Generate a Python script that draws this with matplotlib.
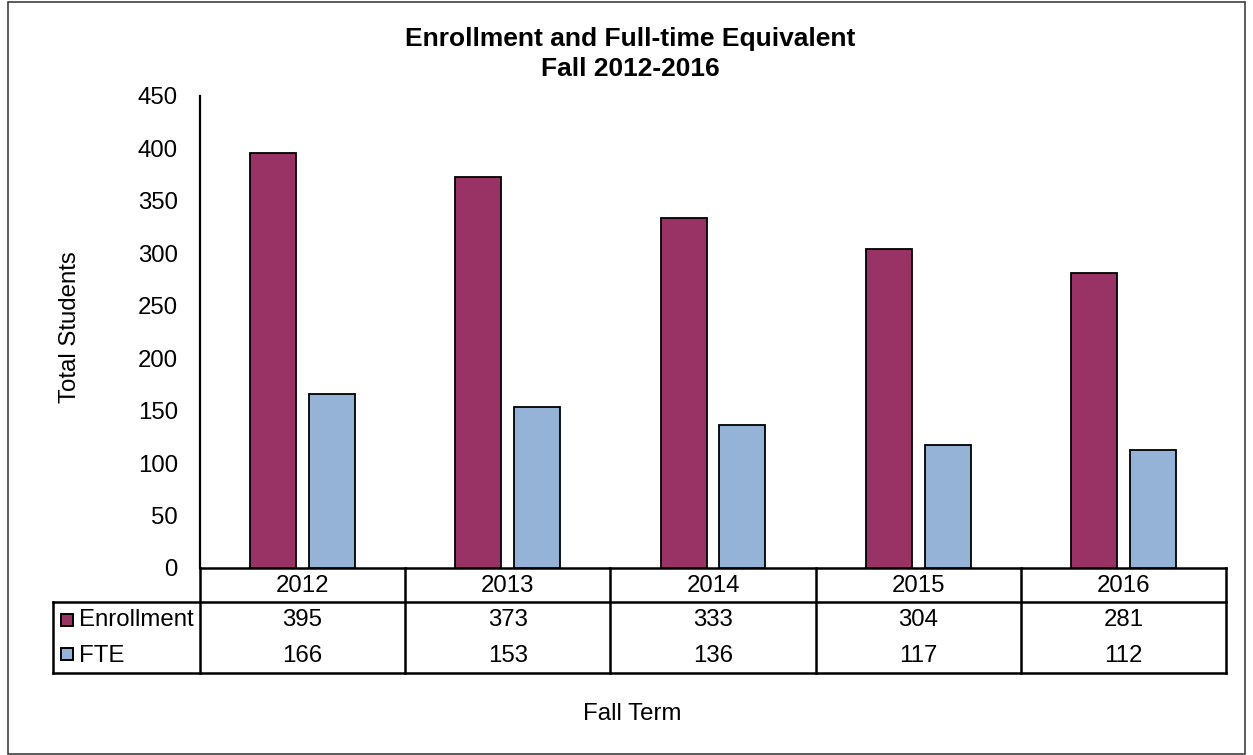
import matplotlib
matplotlib.use("Agg")
import matplotlib.pyplot as plt
from matplotlib.patches import Rectangle
from matplotlib.lines import Line2D
import matplotlib.transforms as mtransforms

years = ["2012", "2013", "2014", "2015", "2016"]
enrollment = [395, 373, 333, 304, 281]
fte = [166, 153, 136, 117, 112]
series_names = ["Enrollment", "FTE"]
colors = ["#993366", "#95B3D7"]
yticks = [0, 50, 100, 150, 200, 250, 300, 350, 400, 450]

plt.rcParams['font.family'] = ['Liberation Sans', 'DejaVu Sans']

W, H = 1253, 755
fig = plt.figure(figsize=(W / 100, H / 100), dpi=100)

# pixel layout
ax_l, ax_r, ax_t, ax_b = 200, 1226, 95.7, 568
ax = fig.add_axes([ax_l / W, 1 - ax_b / H, (ax_r - ax_l) / W, (ax_b - ax_t) / H])

fs = 17.3

x = list(range(len(years)))
bw = 0.224
off = 0.143
ax.bar([i - off for i in x], enrollment, width=bw, color=colors[0], edgecolor="black", linewidth=1.3, zorder=3)
ax.bar([i + off for i in x], fte, width=bw, color=colors[1], edgecolor="black", linewidth=1.3, zorder=3)

ax.set_xlim(-0.5, len(years) - 0.5)
ax.set_ylim(0, 450)
ax.set_yticks(yticks)
ax.set_yticklabels([str(v) for v in yticks], fontsize=fs)
ax.tick_params(axis='y', length=0, pad=16)
ax.set_xticks([])
for s in ["top", "right"]:
    ax.spines[s].set_visible(False)
ax.spines["left"].set_linewidth(1.6)
ax.spines["bottom"].set_linewidth(1.8)

# figure pixel transform (origin top-left)
pix = mtransforms.Affine2D().scale(1 / W, -1 / H).translate(0, 1) + fig.transFigure
blend = mtransforms.blended_transform_factory(ax.transData, pix)

row_top, row_mid, row_bot = 568, 602, 673
tbl_left = 53
lw = 1.8

fig.add_artist(Line2D([tbl_left / W, ax_r / W], [1 - row_mid / H] * 2, transform=fig.transFigure, color="black", lw=lw))
fig.add_artist(Line2D([tbl_left / W, ax_r / W], [1 - row_bot / H] * 2, transform=fig.transFigure, color="black", lw=lw))
fig.add_artist(Line2D([tbl_left / W] * 2, [1 - row_mid / H, 1 - row_bot / H], transform=fig.transFigure, color="black", lw=lw))
for b in range(len(years) + 1):
    xb = b - 0.5
    ax.add_line(Line2D([xb, xb], [row_top, row_bot], transform=blend, color="black", lw=lw, clip_on=False))

for i, yr in enumerate(years):
    ax.text(i, 592, yr, transform=blend, ha="center", va="baseline", fontsize=fs)
    ax.text(i, 626.5, str(enrollment[i]), transform=blend, ha="center", va="baseline", fontsize=fs)
    ax.text(i, 661.5, str(fte[i]), transform=blend, ha="center", va="baseline", fontsize=fs)

# legend keys in table
for name, c, yb, yc in zip(series_names, colors, [626.5, 661.5], [619.5, 654.3]):
    fig.add_artist(Rectangle((61 / W, 1 - (yc + 6) / H), 12 / W, 12 / H, transform=fig.transFigure,
                             facecolor=c, edgecolor="black", lw=1.4))
    fig.text(79 / W, 1 - yb / H, name, ha="left", va="baseline", fontsize=fs)

# titles
fig.text(630 / W, 1 - 46 / H, "Enrollment and Full-time Equivalent", ha="center", va="baseline",
         fontsize=19, fontweight="bold")
fig.text(630 / W, 1 - 76 / H, "Fall 2012-2016", ha="center", va="baseline", fontsize=19, fontweight="bold")
fig.text(70 / W, 1 - 327 / H, "Total Students", rotation=90, ha="center", va="center", fontsize=fs)
fig.text(632 / W, 1 - 720 / H, "Fall Term", ha="center", va="baseline", fontsize=fs)

# outer border
fig.add_artist(Rectangle((7.5 / W, 1 - 753.5 / H), (1245 - 7.5) / W, (753.5 - 1.5) / H, transform=fig.transFigure,
                         fill=False, edgecolor="#404040", lw=1.2))

fig.savefig("out.png", dpi=100)
